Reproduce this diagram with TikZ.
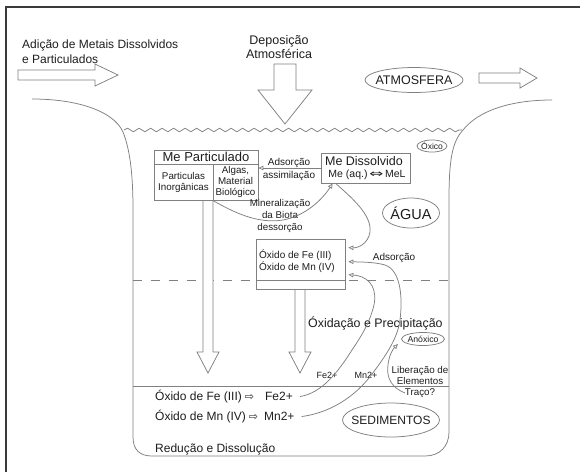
\documentclass[tikz,border=0pt]{standalone}
\usepackage{fontspec}
\usepackage{graphicx}
\setmainfont{Liberation Sans}
\newfontfamily\arrowfont{DejaVu Sans}
\usetikzlibrary{shapes.geometric,arrows.meta,decorations.pathmorphing,calc}
\definecolor{ink}{HTML}{1E1E1E}
\definecolor{wire}{HTML}{808080}
\definecolor{framec}{HTML}{3A3A3A}
\newcommand{\sz}[2]{\fontsize{#1}{#2}\selectfont}
\begin{document}
\begin{tikzpicture}[x=1pt,y=-1pt,
  wire/.style={draw=wire,line width=0.75pt},
  flow/.style={wire,-{Triangle[open,length=5pt,width=4.5pt]}},
  blockarrow/.style={draw=wire,fill=white,line width=0.75pt,line join=miter},
  cell/.style={draw=wire,line width=0.75pt,inner sep=0pt,fill=white,text=ink},
  oval/.style={ellipse,draw=wire,line width=0.75pt,inner sep=0pt},
  lbl/.style={inner sep=0pt,text=ink},
]
\useasboundingbox (0,0) rectangle (580,472);
\fill[white] (0,0) rectangle (580,472);
% outer frame
\draw[framec,line width=1.2pt] (6,472) -- (6,7) -- (580,7);

% inputs from outside the water body
\node[lbl,anchor=base west,font=\sz{12}{14}] (addA) at (22,48) {Adição de Metais Dissolvidos};
\node[lbl,anchor=base west,font=\sz{12}{14}] (addB) at (22,63) {e Particulados};
\node[lbl,anchor=base,font=\sz{12.5}{14}] (depA) at (279,44) {Deposição};
\node[lbl,anchor=base,font=\sz{12.5}{14}] (depB) at (279,58) {Atmosférica};
\draw[blockarrow] (18,70) -- (95,70) -- (95,64) -- (118,75) -- (95,86) -- (95,80) -- (18,80) -- cycle;
\draw[blockarrow] (274,64) -- (296,64) -- (296,90) -- (312,90) -- (285,124) -- (258,90) -- (274,90) -- cycle;
\node[oval,minimum width=98,minimum height=25,
  label={[lbl,font=\sz{12.5}{14}]center:ATMOSFERA}] (atm) at (414,80) {};
\draw[blockarrow] (479,73) -- (520,73) -- (520,68) -- (537,78) -- (520,88) -- (520,83) -- (479,83) -- cycle;

% basin outline
\draw[wire] (32,99) .. controls (75,99) and (113,110) .. (123,132)
  .. controls (131,152) and (133,180) .. (133,210) -- (133,437)
  .. controls (133,450) and (140,456) .. (152,456) -- (425,456)
  .. controls (440,456) and (449,446) .. (449,432) -- (449,200)
  .. controls (449,160) and (452,142) .. (463,130)
  .. controls (478,111) and (510,100) .. (552,100);
% water surface
\draw[wire,decorate,decoration={snake,segment length=11.5pt,amplitude=1.8pt}] (124,130) -- (462,130);
% oxic / anoxic boundary and sediment surface
\draw[wire,dash pattern=on 9pt off 9pt] (133,280) -- (449,280);
\draw[wire] (133,386) -- (449,386);

% settling arrows
\draw[blockarrow] (203,200) -- (203,352) -- (197,352) -- (208,373) -- (219,352) -- (213,352) -- (213,200);
\draw[blockarrow] (295,289) -- (295,352) -- (289,352) -- (300,373) -- (311,352) -- (305,352) -- (305,289);

% particulate metal box
\node[cell,minimum width=104,minimum height=14,font=\sz{13}{15}] (mpt) at (206,157) {Me Particulado};
\node[cell,minimum width=59,minimum height=36,align=center,font=\sz{9.8}{11}] (mpi) at (183.5,182) {Particulas\\Inorgânicas};
\node[cell,minimum width=45,minimum height=36,align=center,font=\sz{9.8}{11}] (mpb) at (235.5,182) {Algas,\\Material\\Biológico};

% dissolved metal box
\node[cell,minimum width=89,minimum height=30] (mdis) at (365.5,168) {};
\node[lbl,anchor=base,font=\sz{12.5}{14}] (mdisT) at (364,165.5) {Me Dissolvido};
\node[lbl,anchor=base,font=\sz{10.5}{12}] (mdisS) at (367,177) {Me (aq.)\,{\arrowfont\scalebox{1.6}[1]{⇔}}\,MeL};

% oxide box
\node[cell,minimum width=89,minimum height=50] (fe) at (300.5,264) {};
\draw[wire] (fe.west |- 0,280) -- (fe.east |- 0,280);
\node[lbl,anchor=base west,font=\sz{10}{12}] (fe1) at (259,258.5) {Óxido de Fe (III)};
\node[lbl,anchor=base west,font=\sz{10}{12}] (fe2) at (259,270.5) {Óxido de Mn (IV)};

% zone labels
\node[oval,minimum width=30,minimum height=12,
  label={[lbl,font=\sz{8.5}{10}]center:Óxico}] (oxic) at (432,146) {};
\node[oval,minimum width=57,minimum height=30,
  label={[lbl,font=\sz{14.5}{16}]center:ÁGUA}] (agua) at (411,213) {};
\node[oval,minimum width=43,minimum height=13,
  label={[lbl,font=\sz{8.7}{10}]center:Anóxico}] (anox) at (423,339) {};
\node[oval,minimum width=97,minimum height=34,
  label={[lbl,font=\sz{12}{14}]center:SEDIMENTOS}] (sed) at (391,420) {};

% process labels
\node[lbl,anchor=base,font=\sz{10}{12}] (ads1) at (289,165.5) {Adsorção};
\node[lbl,anchor=base,font=\sz{10}{12}] (ads2) at (289,178.5) {assimilação};
\node[lbl,align=center,font=\sz{9.8}{12}] (mineral) at (280,216) {Mineralização\\da Biota\\dessorção};
\node[lbl,anchor=base,font=\sz{10}{12}] (ads3) at (394,260.5) {Adsorção};
\node[lbl,anchor=base west,font=\sz{12.4}{14}] (oxprec) at (308,327.5) {Óxidação e Precipitação};
\node[lbl,align=center,font=\sz{9.8}{11}] (lib) at (420,381.5) {Liberação de\\Elementos\\Traço?};
\node[lbl,anchor=base,font=\sz{9}{11}] (fe2p) at (327,378) {Fe2+};
\node[lbl,anchor=base,font=\sz{9}{11}] (mn2p) at (366,378) {Mn2+};
\node[lbl,anchor=base west,font=\sz{12}{14}] (sfe) at (155,400.5) {Óxido de Fe (III)\hspace{3pt}{\arrowfont\sz{11}{12}⇨}\hspace{11pt}Fe2+};
\node[lbl,anchor=base west,font=\sz{12}{14}] (smn) at (155,420.5) {Óxido de Mn (IV)\hspace{3pt}{\arrowfont\sz{11}{12}⇨}\hspace{6pt}Mn2+};
\node[lbl,anchor=base west,font=\sz{12}{14}] (redu) at (155,452) {Redução e Dissolução};

% exchange pathways
\draw[flow] (mdis.west) -- (mdis.west -| mpb.east);
\draw[flow] (mpb.south west) .. controls (235,213) and (258,224) .. (283,220)
  .. controls (305,216) and (322,200) .. ($(mdis.south west)+(12,0)$);
\draw[flow] ($(mdis.south west)+(15,0)$) .. controls (352,198) and (372,215) .. (370,232)
  .. controls (368,244) and (358,248) .. ($(fe.north east)+(3,9)$);
\draw[flow] ($(smn.east)+(7,0)$) .. controls (335,412) and (360,392) .. (375,370)
  .. controls (390,350) and (398,335) .. (400,320)
  .. controls (403,295) and (400,270) .. (385,265)
  .. controls (375,262) and (360,262) .. ($(fe.north east)+(3,23)$);
\draw[flow] ($(sfe.east)+(7,0)$) .. controls (322,393) and (338,372) .. (352,350)
  .. controls (362,335) and (368,325) .. (372,312)
  .. controls (378,295) and (374,282) .. (362,277)
  .. controls (357,275) and (352,275) .. ($(fe.north east)+(3,36)$);
\coordinate (libstart) at (405,393);
\coordinate (libtip) at (398,344);
\draw[flow] (libstart) .. controls (392,388) and (386,378) .. (388,365)
  .. controls (389,355) and (393,349) .. (libtip);
\end{tikzpicture}
\end{document}
